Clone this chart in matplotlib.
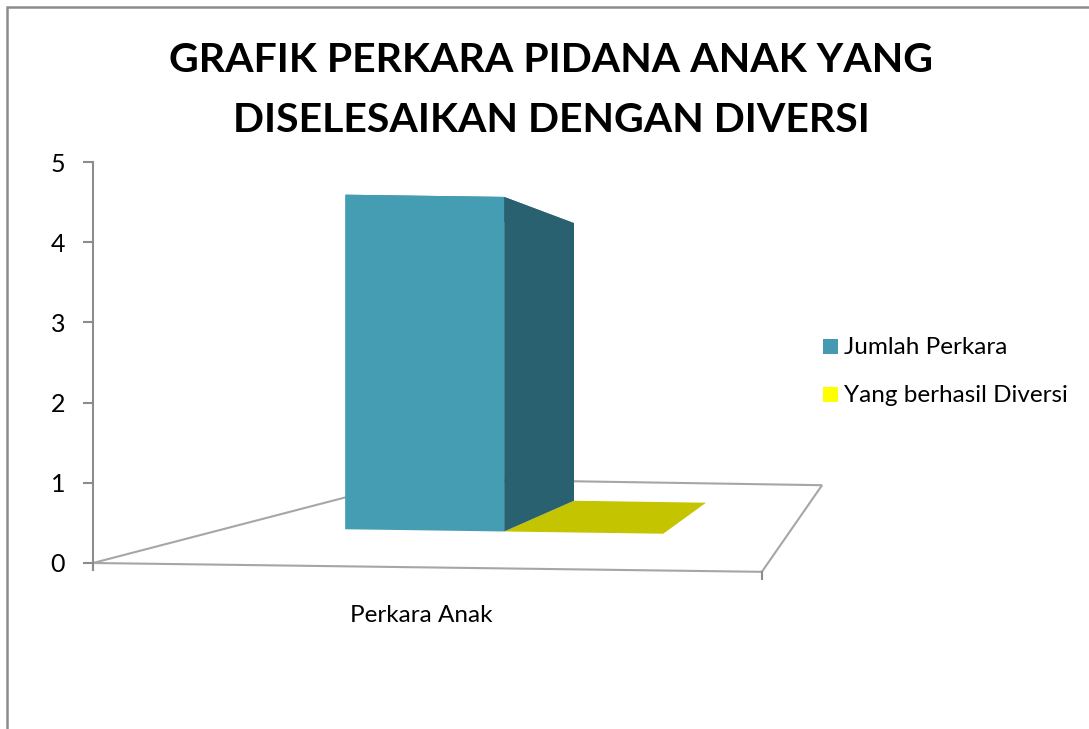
import matplotlib
matplotlib.use("Agg")
import matplotlib.pyplot as plt
from matplotlib.patches import Polygon, Rectangle

# data
title_lines = ["GRAFIK PERKARA PIDANA ANAK YANG", "DISELESAIKAN DENGAN DIVERSI"]
category = "Perkara Anak"
series = ["Jumlah Perkara", "Yang berhasil Diversi"]
values = [5, 0]
yticks = [0, 1, 2, 3, 4, 5]

front_colors = ["#459db3", "#ffff00"]
side_colors = ["#296170", "#9d9d00"]
top_colors = ["#3a8599", "#c4c400"]
legend_colors = ["#4599b0", "#ffff00"]

plt.rcParams['font.family'] = ['Lato', 'DejaVu Sans']

W, H, DPI = 1089, 729, 100
fig = plt.figure(figsize=(W / DPI, H / DPI), dpi=DPI)

# outer chart frame (runs off the right / bottom edge)
fig.patches.append(Rectangle((7 / W, -0.05), 1.1, 1 - 7 / H + 0.05,
                             transform=fig.transFigure, fill=False,
                             edgecolor="#8c8c8c", linewidth=1.8))

# axes in "value units": 80.2 px per unit, origin at the floor front-left corner
px = 80.2
x0, y0 = 93, 563
ax = fig.add_axes([x0 / W, (H - y0 - 0.25 * px) / H, 10 * px / W, 5.5 * px / H])
ax.set_xlim(0, 10)
ax.set_ylim(-0.25, 5.25)
ax.patch.set_alpha(0)
for s in ["top", "right", "bottom"]:
    ax.spines[s].set_visible(False)
ax.spines["left"].set_bounds(-0.07, 5)
ax.spines["left"].set_color("#8c8c8c")
ax.spines["left"].set_linewidth(1.5)
ax.set_yticks(yticks)
ax.set_xticks([])
ax.tick_params(axis="y", length=7, width=1.5, color="#8c8c8c",
               labelsize=18, pad=13)

# floor of the 3d box (perspective quad)
FL = (0.0, 0.0)
FR = (8.34, -0.11)
BR = (9.09, 0.97)
BL = (4.04, 1.05)
front_len = FR[0] - FL[0]
back_len = BR[0] - BL[0]


def floor_pt(u, d):
    x = (1-u)*(1-d)*FL[0] + u*(1-d)*FR[0] + u*d*BR[0] + (1-u)*d*BL[0]
    y = (1-u)*(1-d)*FL[1] + u*(1-d)*FR[1] + u*d*BR[1] + (1-u)*d*BL[1]
    return x, y


def project(u, d, z):
    x, y = floor_pt(u, d)
    scale = ((1 - d) * front_len + d * back_len) / front_len
    return x, y + z * scale


ax.add_patch(Polygon([FL, FR, BR, BL], closed=True, fill=False,
                     edgecolor="#a6a6a6", linewidth=1.5, clip_on=False))
# category axis ticks at both ends of the front edge
for u in [0, 1]:
    x, y = floor_pt(u, 0)
    ax.plot([x, x], [y, y - 0.09], color="#8c8c8c", lw=1.5, clip_on=False)

# bars
bar_w = 0.285
d0, d1 = 0.42, 0.78
start = 0.493 - bar_w * len(values) / 2
for i in range(len(values) - 1, -1, -1):
    u0 = start + i * bar_w
    u1 = u0 + bar_w
    v = values[i]
    top = [project(u0, d0, v), project(u1, d0, v),
           project(u1, d1, v), project(u0, d1, v)]
    front = [project(u0, d0, 0), project(u1, d0, 0),
             project(u1, d0, v), project(u0, d0, v)]
    side = [project(u1, d0, 0), project(u1, d1, 0),
            project(u1, d1, v), project(u1, d0, v)]
    ax.add_patch(Polygon(top, closed=True, facecolor=top_colors[i],
                         edgecolor="none", clip_on=False))
    if v > 0:
        ax.add_patch(Polygon(front, closed=True, facecolor=front_colors[i],
                             edgecolor="none", clip_on=False))
        ax.add_patch(Polygon(side, closed=True, facecolor=side_colors[i],
                             edgecolor="none", clip_on=False))

# category label
cx, cy = floor_pt(0.5, 0)
ax.text(cx - 0.08, cy - 0.6, category, ha="center", va="center", fontsize=17.5)

# legend
for i, name in enumerate(series):
    fig.patches.append(Rectangle((823 / W, 1 - (354 + 48 * i) / H), 15 / W, 15 / H,
                                 transform=fig.transFigure,
                                 facecolor=legend_colors[i], edgecolor="none"))
    fig.text(844 / W, 1 - (347 + 48 * i) / H, name, fontsize=17.5, va="center")

for k, line in enumerate(title_lines):
    fig.text(551 / W, 1 - (61 + 60 * k) / H, line, ha="center", va="center",
             fontsize=29.5, fontweight="bold")

fig.savefig("out.png", dpi=DPI)
